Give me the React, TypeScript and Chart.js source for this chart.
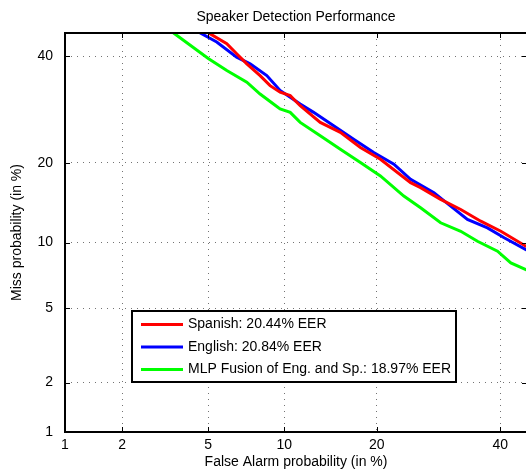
import React, { useEffect, useRef } from 'react';
import { Chart, registerables, Scale } from 'chart.js';

// ---------- data (percent) ----------
const titleText = 'Speaker Detection Performance';
const xTitle = 'False Alarm probability (in %)';
const yTitle = 'Miss probability (in %)';
const xTicks = [1, 2, 5, 10, 20, 40];
const yTicks = [1, 2, 5, 10, 20, 40];
const axisMin = 1;
const axisMax = 45;

const seriesLabels = [
  'Spanish: 20.44% EER',
  'English: 20.84% EER',
  'MLP Fusion of Eng. and Sp.: 18.97% EER',
];
const seriesColors = ['#ff0000', '#0000ff', '#00ff00'];

const spanishFA = [4.64, 5.01, 5.99, 6.57, 7.21, 8.12, 8.86, 9.65, 10.5, 11.39, 13.34, 15.51, 17.9, 20.5, 24.82, 26.35, 29.56, 32.95, 36.47, 40.12, 44.79, 46.5];
const spanishMiss = [46.4, 45.06, 42.66, 40.5, 38.37, 35.92, 33.87, 32.55, 31.87, 29.92, 26.8, 25.02, 22.45, 20.56, 17.08, 16.39, 14.84, 13.59, 12.23, 11.14, 9.65, 9.3];

const englishFA = [4.25, 4.61, 5.44, 6.57, 7.43, 8.61, 9.65, 10.5, 11.39, 12.67, 14.76, 17.07, 19.61, 22.37, 24.82, 28.47, 31.24, 34.11, 37.68, 40.73, 44.79, 46.5];
const englishMiss = [46.4, 45.06, 43.03, 39.79, 38.37, 35.92, 32.9, 31.56, 30.25, 28.66, 26.19, 23.85, 21.63, 19.78, 17.55, 15.71, 13.99, 12.42, 11.5, 10.47, 9.34, 9.0];

const fusionFA = [3.22, 3.51, 5.01, 5.99, 7.21, 8.12, 9.12, 9.65, 10.5, 11.39, 13.34, 15.51, 17.9, 20.5, 23.81, 26.35, 29.56, 32.95, 35.88, 39.51, 41.97, 44.79, 46.5];
const fusionMiss = [46.4, 45.06, 39.5, 36.96, 34.56, 32.2, 30.25, 29.3, 28.66, 26.8, 24.42, 22.17, 20.04, 18.03, 15.27, 13.8, 12.05, 11.14, 10.13, 9.19, 8.17, 7.63, 7.3];

const FONT = "'Liberation Sans', Arial, Helvetica, sans-serif";

// ---------- probit (normal deviate) scale ----------
function probit(p: number): number {
  const a = [-3.969683028665376e1, 2.209460984245205e2, -2.759285104469687e2, 1.38357751867269e2, -3.066479806614716e1, 2.506628277459239];
  const b = [-5.447609879822406e1, 1.615858368580409e2, -1.556989798598866e2, 6.680131188771972e1, -1.328068155288572e1];
  const c = [-7.784894002430293e-3, -3.223964580411365e-1, -2.400758277161838, -2.549732539343734, 4.374664141464968, 2.938163982698783];
  const d = [7.784695709041462e-3, 3.224671290700398e-1, 2.445134137142996, 3.754408661907416];
  const pl = 0.02425;
  const ph = 1 - pl;
  if (p < pl) {
    const q = Math.sqrt(-2 * Math.log(p));
    return (((((c[0] * q + c[1]) * q + c[2]) * q + c[3]) * q + c[4]) * q + c[5]) / ((((d[0] * q + d[1]) * q + d[2]) * q + d[3]) * q + 1);
  }
  if (p <= ph) {
    const q = p - 0.5;
    const r = q * q;
    return ((((((a[0] * r + a[1]) * r + a[2]) * r + a[3]) * r + a[4]) * r + a[5]) * q) / (((((b[0] * r + b[1]) * r + b[2]) * r + b[3]) * r + b[4]) * r + 1);
  }
  const q = Math.sqrt(-2 * Math.log(1 - p));
  return -(((((c[0] * q + c[1]) * q + c[2]) * q + c[3]) * q + c[4]) * q + c[5]) / ((((d[0] * q + d[1]) * q + d[2]) * q + d[3]) * q + 1);
}

function normcdf(z: number): number {
  const t = 1 / (1 + 0.2316419 * Math.abs(z));
  const dd = 0.3989423 * Math.exp((-z * z) / 2);
  const p = dd * t * (0.3193815 + t * (-0.3565638 + t * (1.781478 + t * (-1.821256 + t * 1.330274))));
  return z > 0 ? 1 - p : p;
}

class ProbitScale extends Scale {
  static id = 'probit';
  static defaults = {};
  _pStart = 0;
  _pRange = 1;

  determineDataLimits() {
    const { min, max } = (this as any).getUserBounds();
    (this as any).min = min;
    (this as any).max = max;
  }
  buildTicks() {
    const vals = (this as any).axis === 'x' ? xTicks : yTicks;
    return vals.map((v) => ({ value: v }));
  }
  getLabelForValue(v: number) {
    return String(v);
  }
  configure() {
    super.configure();
    this._pStart = probit((this as any).min / 100);
    this._pRange = probit((this as any).max / 100) - this._pStart;
  }
  getPixelForValue(v: number) {
    if (v === null || v === undefined || isNaN(v)) return NaN;
    const p = Math.min(Math.max(v / 100, 1e-7), 1 - 1e-7);
    return (this as any).getPixelForDecimal((probit(p) - this._pStart) / this._pRange);
  }
  getValueForPixel(px: number) {
    const dec = (this as any).getDecimalForPixel(px);
    return 100 * normcdf(dec * this._pRange + this._pStart);
  }
}

Chart.register(...registerables, ProbitScale as any);

const toPoints = (xs: number[], ys: number[]) => xs.map((x, i) => ({ x, y: ys[i] }));

// legend layout (pixels)
const LEG = { left: 132, top: 311, right: 456, bottom: 382, lineX0: 141, lineX1: 183, textX: 188, rows: [324.5, 347, 369.5] };

const framePlugin = {
  id: 'frame',
  afterDatasetsDraw(chart: any) {
    const { ctx, chartArea: a, scales } = chart;
    ctx.save();
    ctx.strokeStyle = '#000';
    ctx.lineWidth = 1;
    ctx.beginPath();
    xTicks.forEach((v) => {
      const px = Math.round(scales.x.getPixelForValue(v)) + 0.5;
      ctx.moveTo(px, a.bottom);
      ctx.lineTo(px, a.bottom - 5);
      ctx.moveTo(px, a.top);
      ctx.lineTo(px, a.top + 5);
    });
    yTicks.forEach((v) => {
      const py = Math.round(scales.y.getPixelForValue(v)) + 0.5;
      ctx.moveTo(a.left, py);
      ctx.lineTo(a.left + 5, py);
      ctx.moveTo(a.right, py);
      ctx.lineTo(a.right - 5, py);
    });
    ctx.stroke();
    ctx.lineWidth = 2;
    ctx.strokeRect(a.left, a.top, a.right - a.left, a.bottom - a.top);

    // title
    ctx.fillStyle = '#000';
    ctx.font = `14px ${FONT}`;
    ctx.textAlign = 'center';
    ctx.textBaseline = 'middle';
    ctx.fillText(titleText, (a.left + a.right) / 2, 17);

    // legend
    ctx.fillStyle = '#fff';
    ctx.fillRect(LEG.left, LEG.top, LEG.right - LEG.left, LEG.bottom - LEG.top);
    ctx.lineWidth = 2;
    ctx.strokeStyle = '#000';
    ctx.strokeRect(LEG.left, LEG.top, LEG.right - LEG.left, LEG.bottom - LEG.top);
    chart.data.datasets.forEach((ds: any, i: number) => {
      const y = LEG.rows[i];
      ctx.strokeStyle = ds.borderColor;
      ctx.lineWidth = 3;
      ctx.beginPath();
      ctx.moveTo(LEG.lineX0, y);
      ctx.lineTo(LEG.lineX1, y);
      ctx.stroke();
      ctx.fillStyle = '#000';
      ctx.textAlign = 'left';
      ctx.textBaseline = 'middle';
      ctx.fillText(ds.label, LEG.textX, y);
    });
    ctx.restore();
  },
};

export default function App() {
  const ref = useRef<HTMLCanvasElement>(null);
  useEffect(() => {
    if (!ref.current) return;
    const font = { family: FONT, size: 14 };
    const makeAxis = (axis: 'x' | 'y') => ({
      type: 'probit',
      position: axis === 'x' ? 'bottom' : 'left',
      min: axisMin,
      max: axisMax,
      grid: { color: 'rgba(0,0,0,0.55)', lineWidth: 1, drawTicks: false },
      border: { display: false, dash: [1, 5] },
      ticks: { padding: axis === 'x' ? 5 : 12, font, color: '#000', autoSkip: false, maxRotation: 0 },
      title: {
        display: true,
        text: axis === 'x' ? xTitle : yTitle,
        font,
        color: '#000',
        padding: axis === 'x' ? { top: 0, bottom: 0 } : { top: 9, bottom: 0 },
      },
      afterFit: (s: any) => {
        if (axis === 'x') s.height = 39;
        else s.width = 65;
      },
    });
    const chart = new Chart(ref.current, {
      type: 'line',
      data: {
        datasets: [
          { label: seriesLabels[0], data: toPoints(spanishFA, spanishMiss), borderColor: seriesColors[0] },
          { label: seriesLabels[1], data: toPoints(englishFA, englishMiss), borderColor: seriesColors[1] },
          { label: seriesLabels[2], data: toPoints(fusionFA, fusionMiss), borderColor: seriesColors[2] },
        ].map((d) => ({ ...d, backgroundColor: d.borderColor, borderWidth: 3, pointRadius: 0, tension: 0, fill: false, clip: 0 })),
      },
      options: {
        animation: false,
        responsive: false,
        maintainAspectRatio: false,
        parsing: true,
        layout: { padding: { left: 0, right: 13, top: 33, bottom: 0 } },
        plugins: { legend: { display: false }, title: { display: false }, tooltip: { enabled: false } },
        scales: { x: makeAxis('x'), y: makeAxis('y') } as any,
      },
      plugins: [framePlugin],
    } as any);
    return () => chart.destroy();
  }, []);
  return (
    <div style={{ position: 'fixed', left: 0, top: 0, width: 526, height: 471, overflow: 'hidden', background: '#fff' }}>
      <canvas ref={ref} width={540} height={471} style={{ display: 'block' }} />
    </div>
  );
}
